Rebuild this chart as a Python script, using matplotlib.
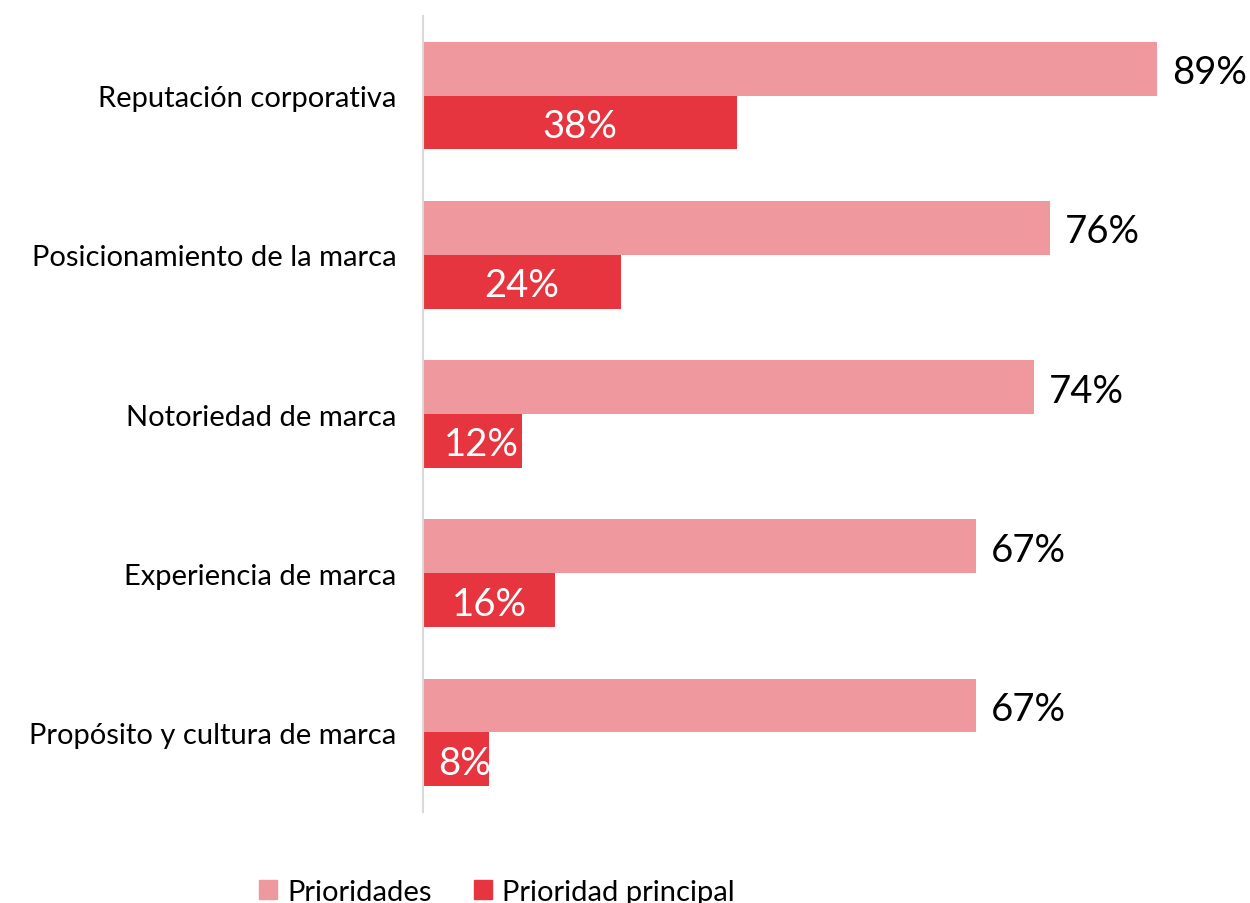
import matplotlib
matplotlib.use("Agg")
import matplotlib.pyplot as plt
from matplotlib.patches import Patch

plt.rcParams['font.family'] = ['Lato', 'DejaVu Sans']

categories = [
    "Reputación corporativa",
    "Posicionamiento de la marca",
    "Notoriedad de marca",
    "Experiencia de marca",
    "Propósito y cultura de marca",
]
prioridades = [89, 76, 74, 67, 67]
prioridad_principal = [38, 24, 12, 16, 8]

color_light = "#EF989D"
color_dark = "#E73540"

fig = plt.figure(figsize=(12.5, 9.04), dpi=100)
ax = fig.add_axes([423 / 1250, 1 - 813 / 904, 825 / 1250, 796 / 904])

h = 54 / 160
ypos = list(range(len(categories)))
y_light = [y - h / 2 for y in ypos]
y_dark = [y + h / 2 for y in ypos]

bars_l = ax.barh(y_light, prioridades, height=h, color=color_light)
bars_d = ax.barh(y_dark, prioridad_principal, height=h, color=color_dark)

for bar, v in zip(bars_l, prioridades):
    ax.annotate(f"{v}%", (bar.get_width(), bar.get_y() + bar.get_height() / 2),
                xytext=(11, -2.5), textcoords="offset points",
                ha="left", va="center", fontsize=27.5, color="black")

for bar, v in zip(bars_d, prioridad_principal):
    # small bars get their label nudged right, clipped to the bar
    dx = 6 if v < 15 else 0
    t = ax.annotate(f"{v}%", (bar.get_width() / 2, bar.get_y() + bar.get_height() / 2),
                    xytext=(dx, -2.5), textcoords="offset points",
                    ha="center", va="center", fontsize=27.5, color="white")
    t.set_clip_path(bar)

ax.set_xlim(0, 100)
ax.set_ylim(len(categories) - 0.5, -0.5)
ax.set_yticks(ypos)
ax.set_yticklabels(categories, fontsize=21)
ax.tick_params(axis="y", length=0, pad=19)
ax.set_xticks([])
for side in ("top", "right", "bottom"):
    ax.spines[side].set_visible(False)
ax.spines["left"].set_color("#D9D9D9")
ax.spines["left"].set_linewidth(1.5)

handles = [Patch(color=color_light, label="Prioridades"),
           Patch(color=color_dark, label="Prioridad principal")]
fig.legend(handles=handles, loc="center", bbox_to_anchor=(497 / 1250, 1 - 893 / 904),
           ncol=2, frameon=False, fontsize=21, handlelength=0.62, handleheight=0.62,
           handletextpad=0.34, columnspacing=1.45, borderpad=0)

fig.savefig("out.png", dpi=100)
